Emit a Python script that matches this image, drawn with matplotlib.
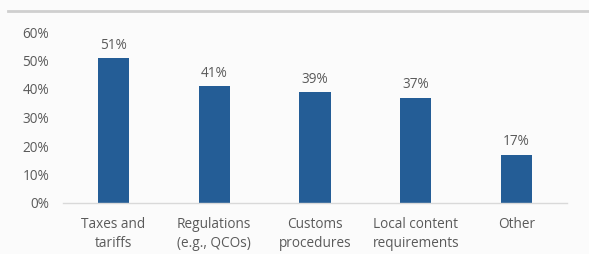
import matplotlib
matplotlib.use("Agg")
import matplotlib.pyplot as plt
from matplotlib.lines import Line2D

categories = ["Taxes and\ntariffs", "Regulations\n(e.g., QCOs)", "Customs\nprocedures",
              "Local content\nrequirements", "Other"]
values = [51, 41, 39, 37, 17]
yticks = [0, 10, 20, 30, 40, 50, 60]

bar_color = "#245d96"
text_color = "#5a5a5a"

plt.rcParams["font.family"] = ["Open Sans", "DejaVu Sans"]

fig = plt.figure(figsize=(5.89, 2.54), dpi=100, facecolor="#fbfbfb")
ax = fig.add_axes([63 / 589, 1 - 203 / 254, (567 - 63) / 589, (203 - 32) / 254])
ax.set_facecolor("#fbfbfb")

x = range(len(categories))
ax.bar(x, values, width=0.31, color=bar_color)
for xi, v in zip(x, values):
    ax.text(xi, v + 1.8, f"{v}%", ha="center", va="bottom", fontsize=9.8, color=text_color)

ax.set_xlim(-0.5, len(categories) - 0.5)
ax.set_ylim(0, 60)
ax.set_yticks(yticks)
ax.set_yticklabels([f"{t}%" for t in yticks], fontsize=9.8, color=text_color)
ax.set_xticks(list(x))
ax.set_xticklabels(categories, fontsize=9.8, color=text_color, linespacing=1.4)
ax.tick_params(axis="both", length=0)
ax.tick_params(axis="y", pad=10)
ax.tick_params(axis="x", pad=10)

for s in ["top", "right", "left"]:
    ax.spines[s].set_visible(False)
ax.spines["bottom"].set_color("#d9d9d9")
ax.spines["bottom"].set_linewidth(1.0)

# header rule at the top of the figure
fig.add_artist(Line2D([8 / 589, 1.0], [1 - 11 / 254, 1 - 11 / 254],
                      color="#cfcfcf", linewidth=2.0, transform=fig.transFigure))

fig.savefig("out.png", dpi=100, facecolor=fig.get_facecolor())
